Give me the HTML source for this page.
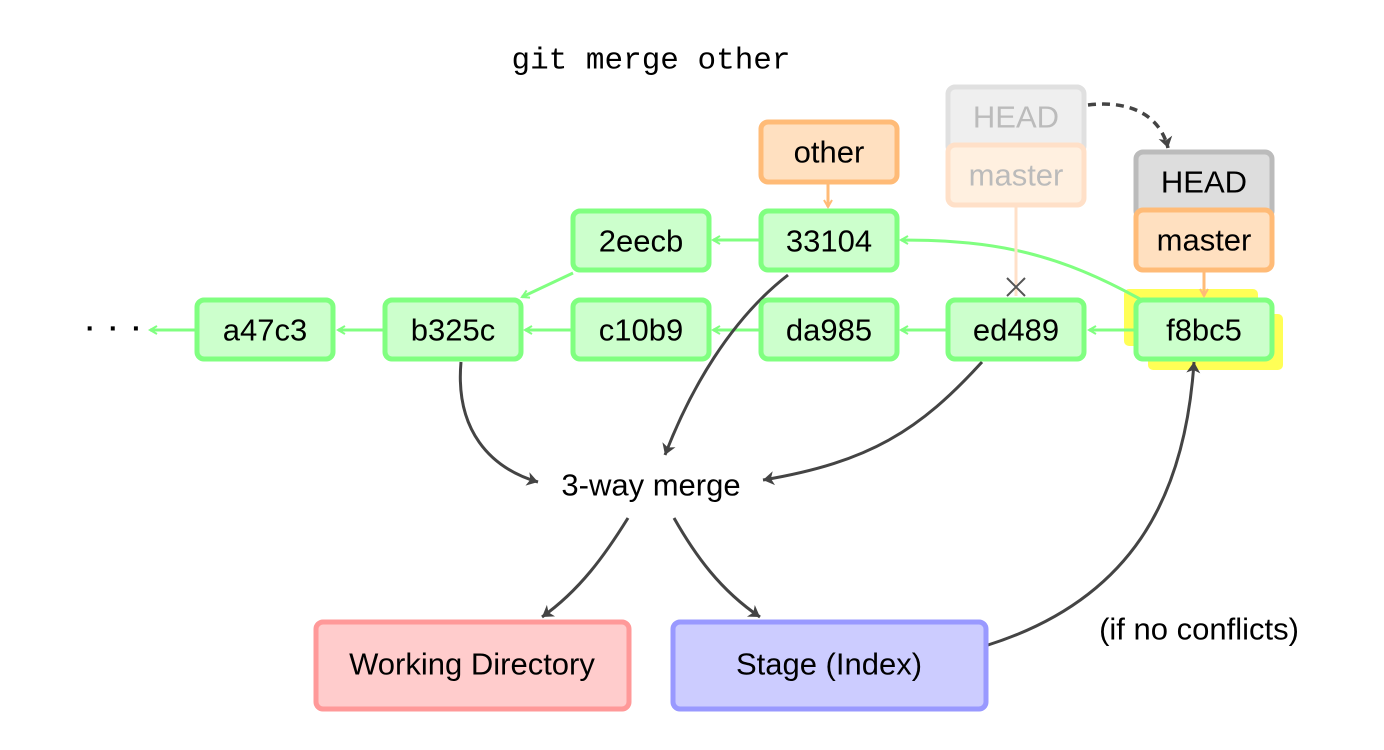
<!DOCTYPE html>
<html><head><meta charset="utf-8"><style>
body{margin:0;background:#fff;}
svg{display:block;}
text{font-family:"Liberation Sans",sans-serif;font-size:31px;text-anchor:middle;dominant-baseline:central;}
</style></head><body>
<svg width="1384" height="750" viewBox="0 0 1384 750" xmlns="http://www.w3.org/2000/svg">
<defs>
<marker id="ag" markerWidth="10" markerHeight="10" refX="8" refY="5" orient="auto" markerUnits="userSpaceOnUse"><path d="M1,1 L8,5 L1,9" fill="none" stroke="#80ff80" stroke-width="2"/></marker>
<marker id="ao" markerWidth="10" markerHeight="10" refX="8" refY="5" orient="auto" markerUnits="userSpaceOnUse"><path d="M1,1 L8,5 L1,9" fill="none" stroke="#ffbb77" stroke-width="2"/></marker>
<marker id="ad" markerWidth="16" markerHeight="16" refX="12" refY="8" orient="auto" markerUnits="userSpaceOnUse"><path d="M1,1 L12,8 L1,15 L4,8 Z" fill="#444"/></marker>
</defs>
<text x="651" y="61" style="font-family:'Liberation Mono',monospace;font-size:31px">git merge other</text>

<rect x="1124" y="289" width="134" height="57" rx="5" fill="#ffff44" opacity="0.9"/>
<rect x="1148" y="314" width="135" height="56" rx="5" fill="#ffff44" opacity="0.9"/>

<g stroke="#80ff80" stroke-width="3" fill="none">
<line x1="196" y1="330" x2="150" y2="330" marker-end="url(#ag)"/>
<line x1="383" y1="330" x2="338" y2="330" marker-end="url(#ag)"/>
<line x1="571" y1="330" x2="525" y2="330" marker-end="url(#ag)"/>
<line x1="759" y1="330" x2="713" y2="330" marker-end="url(#ag)"/>
<line x1="946" y1="330" x2="901" y2="330" marker-end="url(#ag)"/>
<line x1="1134" y1="330" x2="1089" y2="330" marker-end="url(#ag)"/>
<line x1="759" y1="240" x2="713" y2="240" marker-end="url(#ag)"/>
<line x1="573" y1="273" x2="522" y2="297" marker-end="url(#ag)"/>
<path d="M1140,299 C1060,255 1000,240 901,240" marker-end="url(#ag)"/>
</g>
<g stroke="#ffbb77" stroke-width="3" fill="none">
<line x1="828" y1="183" x2="828" y2="207" marker-end="url(#ao)"/>
<line x1="1204" y1="270" x2="1204" y2="296" marker-end="url(#ao)"/>
</g>
<line x1="1016" y1="206" x2="1016" y2="296" stroke="#ffe0c8" stroke-width="3"/>
<path d="M1007,278 L1025,296 M1025,278 L1007,296" stroke="#555" stroke-width="2"/>

<g stroke="#444" stroke-width="3" fill="none">
<path d="M1088,105 C1130,100 1160,115 1168,148" stroke-dasharray="8,6" stroke-width="3.5" marker-end="url(#ad)"/>
<path d="M788,275 C730,320 690,390 665,455" marker-end="url(#ad)"/>
<path d="M461,362 C455,430 490,468 538,482" marker-end="url(#ad)"/>
<path d="M982,362 C920,430 870,462 763,480" marker-end="url(#ad)"/>
<path d="M628,518 C605,555 580,590 542,617" marker-end="url(#ad)"/>
<path d="M674,518 C695,555 720,590 760,617" marker-end="url(#ad)"/>
<path d="M988,645 C1130,600 1185,500 1194,362" marker-end="url(#ad)"/>
</g>

<g stroke="#80ff80" stroke-width="5" fill="#ccffcc">
<rect x="197" y="300" width="136" height="59" rx="7"/>
<rect x="385" y="300" width="136" height="59" rx="7"/>
<rect x="573" y="300" width="136" height="59" rx="7"/>
<rect x="761" y="300" width="136" height="59" rx="7"/>
<rect x="948" y="300" width="136" height="59" rx="7"/>
<rect x="1136" y="300" width="136" height="59" rx="7"/>
<rect x="573" y="211" width="136" height="59" rx="7"/>
<rect x="761" y="211" width="136" height="59" rx="7"/>
</g>
<text x="265" y="330">a47c3</text>
<text x="453" y="330">b325c</text>
<text x="641" y="330">c10b9</text>
<text x="829" y="330">da985</text>
<text x="1016" y="330">ed489</text>
<text x="1204" y="330">f8bc5</text>
<text x="641" y="241">2eecb</text>
<text x="829" y="241">33104</text>
<text x="115" y="328" style="font-size:28px;font-weight:bold;letter-spacing:3px">· · ·</text>

<rect x="761" y="122" width="136" height="60" rx="7" fill="#ffe0c0" stroke="#ffbb77" stroke-width="5"/>
<text x="829" y="152">other</text>
<rect x="948" y="87" width="136" height="66" rx="7" fill="#efefef" stroke="#e0e0e0" stroke-width="5"/>
<text x="1016" y="117" fill="#bbb">HEAD</text>
<rect x="948" y="145" width="136" height="60" rx="7" fill="#fff0e0" stroke="#ffe0c8" stroke-width="5"/>
<text x="1016" y="175" fill="#bbb">master</text>
<rect x="1136" y="152" width="136" height="66" rx="7" fill="#dddddd" stroke="#bbbbbb" stroke-width="5"/>
<text x="1204" y="182">HEAD</text>
<rect x="1136" y="210" width="136" height="60" rx="7" fill="#ffe0c0" stroke="#ffbb77" stroke-width="5"/>
<text x="1204" y="240">master</text>

<text x="651" y="485">3-way merge</text>
<text x="1199" y="629">(if no conflicts)</text>

<rect x="316" y="622" width="313" height="87" rx="7" fill="#ffcccc" stroke="#ff9999" stroke-width="5"/>
<text x="472" y="664">Working Directory</text>
<rect x="673" y="622" width="313" height="87" rx="7" fill="#ccccff" stroke="#9999ff" stroke-width="5"/>
<text x="829" y="664">Stage (Index)</text>
</svg>
</body></html>
